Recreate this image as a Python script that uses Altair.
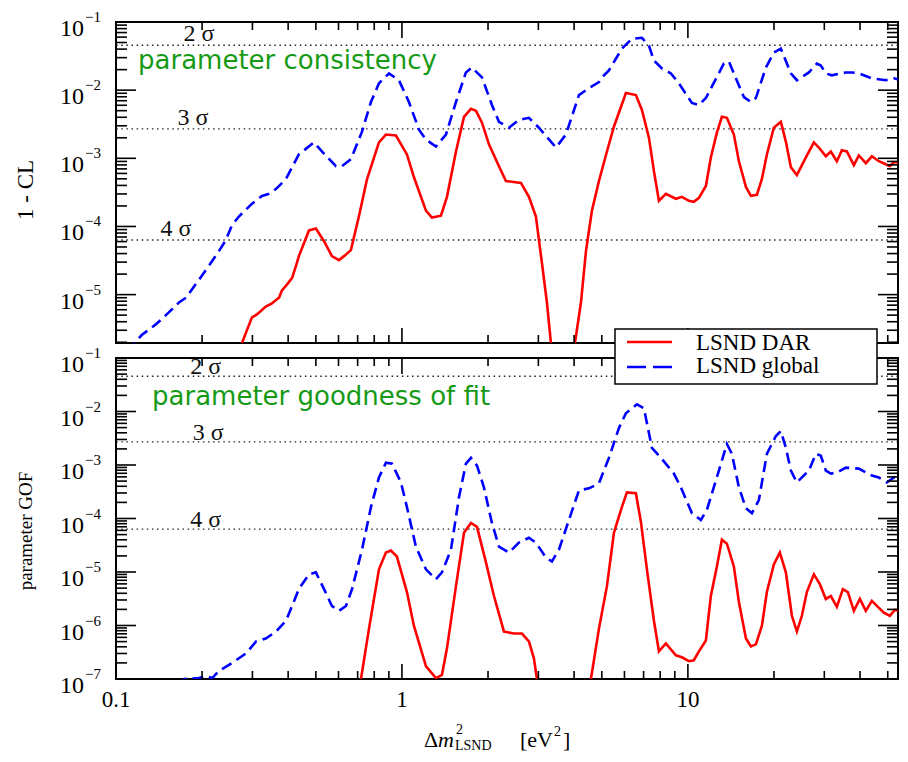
import altair as alt
import pandas as pd

# ---------------- data ----------------
# upper panel: 1 - CL (parameter consistency)
top_global_x = [0.109, 0.116, 0.123, 0.138, 0.153, 0.166, 0.176, 0.184, 0.195, 0.211,
                0.229, 0.242, 0.254, 0.269, 0.299, 0.324, 0.343, 0.363, 0.393, 0.413,
                0.436, 0.492, 0.525, 0.588, 0.617, 0.663, 0.725, 0.779, 0.831, 0.901,
                0.976, 1.058, 1.147, 1.213, 1.315, 1.425, 1.545, 1.674, 1.757, 1.905,
                2.064, 2.184, 2.366, 2.566, 2.780, 3.013, 3.456, 3.745, 4.159, 4.508,
                4.886, 5.005, 5.295, 5.878, 6.371, 6.907, 7.307, 7.607, 8.114, 8.722,
                9.30, 10.33, 10.93, 11.56, 13.36, 13.91, 14.72, 15.70, 16.61, 17.29,
                18.74, 19.98, 21.14, 22.92, 24.05, 26.49, 28.25, 29.17, 30.37, 31.88,
                35.68, 37.45, 39.62, 44.00, 49.23, 52.51, 57.83]
top_global_y = [1.55e-6, 1.95e-6, 2.55e-6, 3.67e-6, 5.48e-6, 7.66e-6, 9.06e-6, 1.18e-5, 1.65e-5, 2.63e-5,
                4.35e-5, 6.27e-5, 1.03e-4, 1.40e-4, 2.16e-4, 2.81e-4, 3.01e-4, 3.56e-4, 4.97e-4, 7.41e-4,
                1.14e-3, 1.71e-3, 1.26e-3, 7.66e-4, 7.66e-4, 9.68e-4, 2.46e-3, 6.70e-3, 1.26e-2, 1.76e-2,
                1.40e-2, 6.70e-3, 2.63e-3, 1.88e-3, 1.49e-3, 2.23e-3, 6.70e-3, 1.82e-2, 2.15e-2, 1.54e-2,
                6.07e-3, 3.43e-3, 2.81e-3, 3.67e-3, 3.93e-3, 2.81e-3, 1.44e-3, 2.23e-3, 8.47e-3, 1.07e-2,
                1.31e-2, 1.54e-2, 1.95e-2, 4.06e-2, 5.67e-2, 5.86e-2, 4.49e-2, 2.72e-2, 2.08e-2, 1.76e-2,
                1.26e-2, 6.49e-3, 6.07e-3, 7.66e-3, 2.46e-2, 2.63e-2, 1.49e-2, 7.92e-3, 6.70e-3, 7.66e-3,
                2.15e-2, 3.56e-2, 4.06e-2, 1.76e-2, 1.40e-2, 1.82e-2, 2.46e-2, 2.30e-2, 1.76e-2, 1.65e-2,
                1.82e-2, 1.82e-2, 1.76e-2, 1.49e-2, 1.40e-2, 1.49e-2, 1.35e-2]

top_dar1_x = [0.269, 0.276, 0.287, 0.299, 0.311, 0.334, 0.351, 0.372, 0.380, 0.396,
              0.413, 0.426, 0.436, 0.473, 0.500, 0.534, 0.569, 0.602, 0.627, 0.663,
              0.707, 0.755, 0.831, 0.879, 0.953, 1.041, 1.101, 1.213, 1.273, 1.369,
              1.437, 1.545, 1.648, 1.743, 1.815, 1.905, 2.015, 2.184, 2.310, 2.607,
              2.780, 2.941, 3.087, 3.214, 3.319, 3.37]
top_dar1_y = [1.49e-6, 1.95e-6, 3.01e-6, 4.64e-6, 5.13e-6, 6.70e-6, 7.41e-6, 9.06e-6, 1.14e-5, 1.40e-5,
              1.76e-5, 2.63e-5, 3.67e-5, 8.75e-5, 9.35e-5, 6.07e-5, 3.67e-5, 3.21e-5, 3.67e-5, 4.49e-5,
              1.40e-4, 4.97e-4, 1.71e-3, 2.23e-3, 2.16e-3, 1.14e-3, 5.31e-4, 1.71e-4, 1.35e-4, 1.44e-4,
              2.72e-4, 1.26e-3, 4.06e-3, 5.31e-3, 4.97e-3, 3.33e-3, 1.60e-3, 7.66e-4, 4.65e-4, 4.35e-4,
              2.72e-4, 1.40e-4, 2.91e-5, 7.66e-6, 1.95e-6, 1.03e-6]
top_dar2_x = [3.96, 4.027, 4.227, 4.401, 4.618, 4.886, 5.211, 5.512, 6.070, 6.580,
              6.907, 7.307, 7.607, 7.920, 8.375, 9.08, 9.53, 10.08, 10.49, 10.93,
              11.56, 12.03, 12.63, 13.15, 13.69, 14.48, 15.08, 15.96, 16.61, 17.43,
              18.15, 18.89, 19.98, 21.14, 22.01, 22.92, 24.05, 25.86, 27.58, 28.71,
              30.37, 31.62, 33.19, 34.56, 35.97, 38.06, 39.62, 41.91, 44.00, 46.53,
              49.23, 50.84, 52.51, 55.55, 57.83]
top_dar2_y = [1.03e-6, 1.95e-6, 7.66e-6, 4.35e-5, 1.71e-4, 4.65e-4, 1.26e-3, 2.91e-3, 9.06e-3, 8.47e-3,
              5.13e-3, 2.01e-3, 6.49e-4, 2.38e-4, 3.01e-4, 2.55e-4, 2.72e-4, 2.38e-4, 2.30e-4, 2.63e-4,
              3.93e-4, 1.03e-3, 2.38e-3, 4.06e-3, 3.93e-3, 2.23e-3, 9.06e-4, 3.80e-4, 2.81e-4, 2.91e-4,
              4.97e-4, 1.14e-3, 2.81e-3, 3.43e-3, 1.76e-3, 7.41e-4, 5.67e-4, 1.03e-3, 1.71e-3, 1.44e-3,
              1.07e-3, 1.26e-3, 9.06e-4, 1.31e-3, 1.26e-3, 7.92e-4, 1.10e-3, 8.47e-4, 1.07e-3, 9.06e-4,
              8.19e-4, 7.66e-4, 8.75e-4, 8.75e-4, 9.06e-4]

# lower panel: parameter goodness of fit
bot_global_x = [0.1635, 0.173, 0.195, 0.206, 0.217, 0.229, 0.254, 0.285, 0.309, 0.334,
                0.363, 0.393, 0.413, 0.436, 0.473, 0.500, 0.534, 0.569, 0.602, 0.637,
                0.669, 0.725, 0.779, 0.831, 0.879, 0.923, 0.992, 1.041, 1.119, 1.213,
                1.315, 1.380, 1.484, 1.583, 1.674, 1.743, 1.830, 1.935, 2.064, 2.184,
                2.366, 2.566, 2.780, 2.941, 3.188, 3.346, 3.540, 3.837, 4.159, 4.508,
                4.886, 5.295, 5.738, 6.070, 6.633, 7.019, 7.485, 8.049, 8.935, 9.45,
                10.33, 11.10, 11.65, 12.84, 13.69, 14.25, 15.08, 15.96, 16.75, 17.71,
                18.89, 20.31, 21.14, 22.01, 22.92, 24.05, 26.49, 28.03, 29.17, 30.37,
                31.62, 33.19, 35.68, 39.62, 44.00, 46.53, 49.63, 52.51, 57.83]
bot_global_y = [8.0e-8, 1.0e-7, 1.04e-7, 1.14e-7, 1.04e-7, 1.41e-7, 1.98e-7, 3.02e-7, 5.04e-7, 5.71e-7,
                7.71e-7, 1.23e-6, 2.32e-6, 4.79e-6, 9.06e-6, 9.86e-6, 4.79e-6, 2.32e-6, 1.88e-6, 2.32e-6,
                4.79e-6, 2.62e-5, 1.63e-4, 5.83e-4, 1.10e-3, 1.06e-3, 4.72e-4, 1.63e-4, 2.98e-5, 1.12e-5,
                7.33e-6, 9.86e-6, 2.62e-5, 2.49e-4, 1.06e-3, 1.36e-3, 9.73e-4, 3.82e-4, 8.26e-5, 2.98e-5,
                2.31e-5, 3.53e-5, 4.37e-5, 3.53e-5, 1.87e-5, 1.57e-5, 2.62e-5, 9.37e-5, 3.36e-4, 3.66e-4,
                4.53e-4, 1.36e-3, 4.89e-3, 9.25e-3, 1.36e-2, 1.15e-2, 2.09e-3, 1.36e-3, 6.92e-4, 3.82e-4,
                1.26e-4, 9.37e-5, 1.44e-4, 7.87e-4, 2.48e-3, 1.62e-3, 3.82e-4, 1.56e-4, 1.26e-4, 2.20e-4,
                1.62e-3, 3.48e-3, 4.31e-3, 2.09e-3, 7.87e-4, 4.72e-4, 7.87e-4, 1.62e-3, 1.49e-3, 7.87e-4,
                6.92e-4, 7.22e-4, 8.93e-4, 8.55e-4, 6.35e-4, 5.83e-4, 4.72e-4, 5.83e-4, 4.72e-4]

bot_dar1_x = [0.707, 0.719, 0.767, 0.831, 0.879, 0.915, 0.960, 1.041, 1.101, 1.213,
              1.315, 1.380, 1.437, 1.545, 1.648, 1.743, 1.830, 1.967, 2.098, 2.274,
              2.464, 2.628, 2.780, 2.894, 2.965, 3.013]
bot_dar1_y = [6.8e-8, 1.0e-7, 8.75e-7, 1.12e-5, 2.31e-5, 2.51e-5, 1.95e-5, 4.22e-6, 9.93e-7, 1.74e-7,
              1.04e-7, 1.19e-7, 3.74e-7, 5.44e-6, 5.41e-5, 8.26e-5, 6.97e-5, 1.51e-5, 3.56e-6, 7.71e-7,
              7.08e-7, 7.08e-7, 5.04e-7, 2.44e-7, 1.0e-7, 5.5e-8]
bot_dar2_x = [4.508, 4.581, 4.886, 5.211, 5.512, 5.831, 6.119, 6.580, 6.851, 7.190,
              7.607, 7.920, 8.375, 9.08, 9.53, 10.08, 10.49, 10.93, 11.56, 12.03,
              12.63, 13.15, 13.69, 14.48, 15.08, 15.96, 16.61, 17.29, 18.15, 18.89,
              19.98, 20.97, 22.01, 23.11, 24.05, 25.04, 26.06, 27.58, 28.94, 30.37,
              31.62, 33.19, 34.83, 36.26, 38.06, 39.94, 41.91, 44.00, 45.80, 48.45,
              50.84, 52.93, 55.55, 57.83]
bot_dar2_y = [5.5e-8, 1.0e-7, 8.75e-7, 5.44e-6, 5.41e-5, 1.44e-4, 3.08e-4, 2.96e-4, 8.63e-5, 1.12e-5,
              1.23e-6, 3.29e-7, 4.62e-7, 2.77e-7, 2.55e-7, 2.15e-7, 2.24e-7, 3.29e-7, 5.25e-7, 3.56e-6,
              1.27e-5, 4.01e-5, 3.38e-5, 1.27e-5, 2.75e-6, 5.71e-7, 4.07e-7, 4.44e-7, 9.93e-7, 4.22e-6,
              1.39e-5, 2.31e-5, 9.86e-6, 1.52e-6, 7.71e-7, 1.52e-6, 4.22e-6, 9.06e-6, 5.93e-6, 3.13e-6,
              3.56e-6, 2.23e-6, 4.79e-6, 4.22e-6, 1.88e-6, 3.13e-6, 1.88e-6, 2.88e-6, 2.32e-6, 1.73e-6,
              1.52e-6, 1.96e-6, 1.88e-6, 2.05e-6]

# sigma reference levels and labels
sigma_values = [0.0455, 0.0027, 6.33e-5]
sigma_labels = ["2 σ", "3 σ", "4 σ"]
top_sigma_label_x = [0.195, 0.186, 0.162]
bot_sigma_label_x = [0.206, 0.210, 0.206]

# axes
x_domain = [0.1, 54.3]
top_y_domain = [1.95e-6, 0.1]
bot_y_domain = [1e-7, 0.1]
x_major = [0.1, 1, 10]
x_tick_labels = ["0.1", "1", "10"]
x_minor = [k * 10.0 ** e for e in (-1, 0, 1) for k in range(2, 10) if k * 10.0 ** e <= 54]
top_y_major = [1e-5, 1e-4, 1e-3, 1e-2, 1e-1]
top_y_exp = ["\u22125", "\u22124", "\u22123", "\u22122", "\u22121"]
top_y_minor = [k * 10.0 ** e for e in range(-6, -1) for k in range(2, 10) if k * 10.0 ** e >= 1.95e-6]
bot_y_major = [1e-7, 1e-6, 1e-5, 1e-4, 1e-3, 1e-2, 1e-1]
bot_y_exp = ["\u22127", "\u22126", "\u22125", "\u22124", "\u22123", "\u22122", "\u22121"]
bot_y_minor = [k * 10.0 ** e for e in range(-7, -1) for k in range(2, 10)]

legend_labels = ["LSND DAR", "LSND global"]

# ---------------- styling ----------------
W, H = 782, 321
RED, BLUE, GREEN = "#ff0000", "#0000ff", "#169a16"
SERIF = "'Liberation Serif', 'Times New Roman', Times, serif"
SANS = "'DejaVu Sans', sans-serif"
one = pd.DataFrame({"a": [0]})


def X(field="x"):
    return alt.X(f"{field}:Q", scale=alt.Scale(type="log", domain=x_domain, nice=False), axis=None)


def Y(dom, field="y"):
    return alt.Y(f"{field}:Q", scale=alt.Scale(type="log", domain=dom, nice=False), axis=None)


def line_df(xs, ys, seg):
    return pd.DataFrame({"x": xs, "y": ys, "seg": seg})


def panel(dom, glob_df, dar_df, ymaj, yexp, ymin, slx, title, title_y, green_text, gx, gy, sig_dy):
    layers = []
    sig = pd.DataFrame({"y": sigma_values, "x": slx, "t": sigma_labels})
    layers.append(alt.Chart(sig).mark_rule(color="#222", strokeWidth=1.4, strokeDash=[1.5, 3.6])
                  .encode(y=Y(dom)))
    layers.append(alt.Chart(sig).mark_text(font=SERIF, fontSize=24, baseline="alphabetic", dy=sig_dy, color="#111")
                  .encode(x=X(), y=Y(dom), text="t:N"))
    layers.append(alt.Chart(one).mark_text(font=SANS, fontSize=26, color=GREEN, align="left", baseline="alphabetic")
                  .encode(x=alt.value(gx), y=alt.value(gy), text=alt.value(green_text)))
    layers.append(alt.Chart(glob_df).mark_line(color=BLUE, strokeWidth=2.6, strokeDash=[11, 6], clip=True)
                  .encode(x=X(), y=Y(dom), detail="seg:N"))
    layers.append(alt.Chart(dar_df).mark_line(color=RED, strokeWidth=2.6, clip=True)
                  .encode(x=X(), y=Y(dom), detail="seg:N"))
    # inward ticks
    ymaj_df = pd.DataFrame({"y": ymaj, "e": yexp})
    ymin_df = pd.DataFrame({"y": ymin})
    xmaj_df = pd.DataFrame({"x": x_major, "t": x_tick_labels})
    xmin_df = pd.DataFrame({"x": x_minor})
    tk = dict(color="black", strokeWidth=1.6)
    layers += [
        alt.Chart(ymaj_df).mark_rule(**tk).encode(y=Y(dom), x=alt.value(0), x2=alt.value(20)),
        alt.Chart(ymaj_df).mark_rule(**tk).encode(y=Y(dom), x=alt.value(W - 20), x2=alt.value(W)),
        alt.Chart(ymin_df).mark_rule(**tk).encode(y=Y(dom), x=alt.value(0), x2=alt.value(11)),
        alt.Chart(ymin_df).mark_rule(**tk).encode(y=Y(dom), x=alt.value(W - 11), x2=alt.value(W)),
        alt.Chart(xmaj_df).mark_rule(**tk).encode(x=X(), y=alt.value(0), y2=alt.value(16)),
        alt.Chart(xmaj_df).mark_rule(**tk).encode(x=X(), y=alt.value(H - 15), y2=alt.value(H)),
        alt.Chart(xmin_df).mark_rule(**tk).encode(x=X(), y=alt.value(0), y2=alt.value(8)),
        alt.Chart(xmin_df).mark_rule(**tk).encode(x=X(), y=alt.value(H - 8), y2=alt.value(H)),
    ]
    # y tick labels 10^n
    layers.append(alt.Chart(ymaj_df).mark_text(font=SERIF, fontSize=24, align="right", baseline="middle", dy=7)
                  .encode(y=Y(dom), x=alt.value(-32), text=alt.value("10")))
    layers.append(alt.Chart(ymaj_df).mark_text(font=SERIF, fontSize=15, align="left", baseline="middle", dy=-5)
                  .encode(y=Y(dom), x=alt.value(-31), text="e:N"))
    # y title
    layers.append(alt.Chart(one).mark_text(font=SERIF, fontSize=title[1], angle=270, baseline="middle")
                  .encode(x=alt.value(-90), y=alt.value(title_y), text=alt.value(title[0])))
    return layers


top_glob = line_df(top_global_x, top_global_y, [1] * len(top_global_x))
top_dar = pd.concat([line_df(top_dar1_x, top_dar1_y, [1] * len(top_dar1_x)),
                     line_df(top_dar2_x, top_dar2_y, [2] * len(top_dar2_x))])
bot_glob = line_df(bot_global_x, bot_global_y, [1] * len(bot_global_x))
bot_dar = pd.concat([line_df(bot_dar1_x, bot_dar1_y, [1] * len(bot_dar1_x)),
                     line_df(bot_dar2_x, bot_dar2_y, [2] * len(bot_dar2_x))])

top_layers = panel(top_y_domain, top_glob, top_dar, top_y_major, top_y_exp, top_y_minor,
                   top_sigma_label_x, ("1 - CL", 23), 168, "parameter consistency", 22, 47, -4)
bot_layers = panel(bot_y_domain, bot_glob, bot_dar, bot_y_major, bot_y_exp, bot_y_minor,
                   bot_sigma_label_x, ("parameter GOF", 19), 173, "parameter goodness of fit", 36, 47, -2)

# x tick labels (bottom panel only)
xmaj_df = pd.DataFrame({"x": x_major, "t": x_tick_labels})
bot_layers.append(alt.Chart(xmaj_df).mark_text(font=SERIF, fontSize=23, baseline="middle")
                  .encode(x=X(), y=alt.value(H + 21), text="t:N"))

# x title: Δm²_LSND [eV²]
def txt(s, x, y, size, style="normal"):
    return (alt.Chart(one).mark_text(font=SERIF, fontSize=size, fontStyle=style, align="left", baseline="alphabetic")
            .encode(x=alt.value(x), y=alt.value(y), text=alt.value(s)))

bot_layers += [
    txt("Δ", 308, H + 68, 22),
    txt("m", 322, H + 68, 22, "italic"),
    txt("2", 340, H + 55, 14),
    txt("LSND", 339, H + 71, 14),
    txt("[eV", 404, H + 68, 22),
    txt("2", 438, H + 57, 14),
    txt("]", 447, H + 68, 22),
]

# legend box (overlapping both panels)
bot_layers += [
    alt.Chart(one).mark_rect(fill="white", stroke="black", strokeWidth=1.5)
    .encode(x=alt.value(499), x2=alt.value(761), y=alt.value(-29), y2=alt.value(26)),
    alt.Chart(one).mark_rule(color=RED, strokeWidth=2.6)
    .encode(x=alt.value(511), x2=alt.value(556), y=alt.value(-16)),
    alt.Chart(one).mark_rule(color=BLUE, strokeWidth=2.6, strokeDash=[19, 7])
    .encode(x=alt.value(511), x2=alt.value(556), y=alt.value(9)),
    txt(legend_labels[0], 580, -8, 23),
    txt(legend_labels[1], 580, 15, 23),
]

top = alt.layer(*top_layers).properties(width=W, height=H)
bottom = alt.layer(*bot_layers).properties(width=W, height=H)

chart = (alt.vconcat(top, bottom, spacing=15, bounds="flush")
         .properties(padding={"left": 6, "top": 1, "right": 0, "bottom": 0}, background="white")
         .configure_view(stroke="black", strokeWidth=2))

chart.save("out.html", embed_options={"renderer": "svg", "actions": False})
